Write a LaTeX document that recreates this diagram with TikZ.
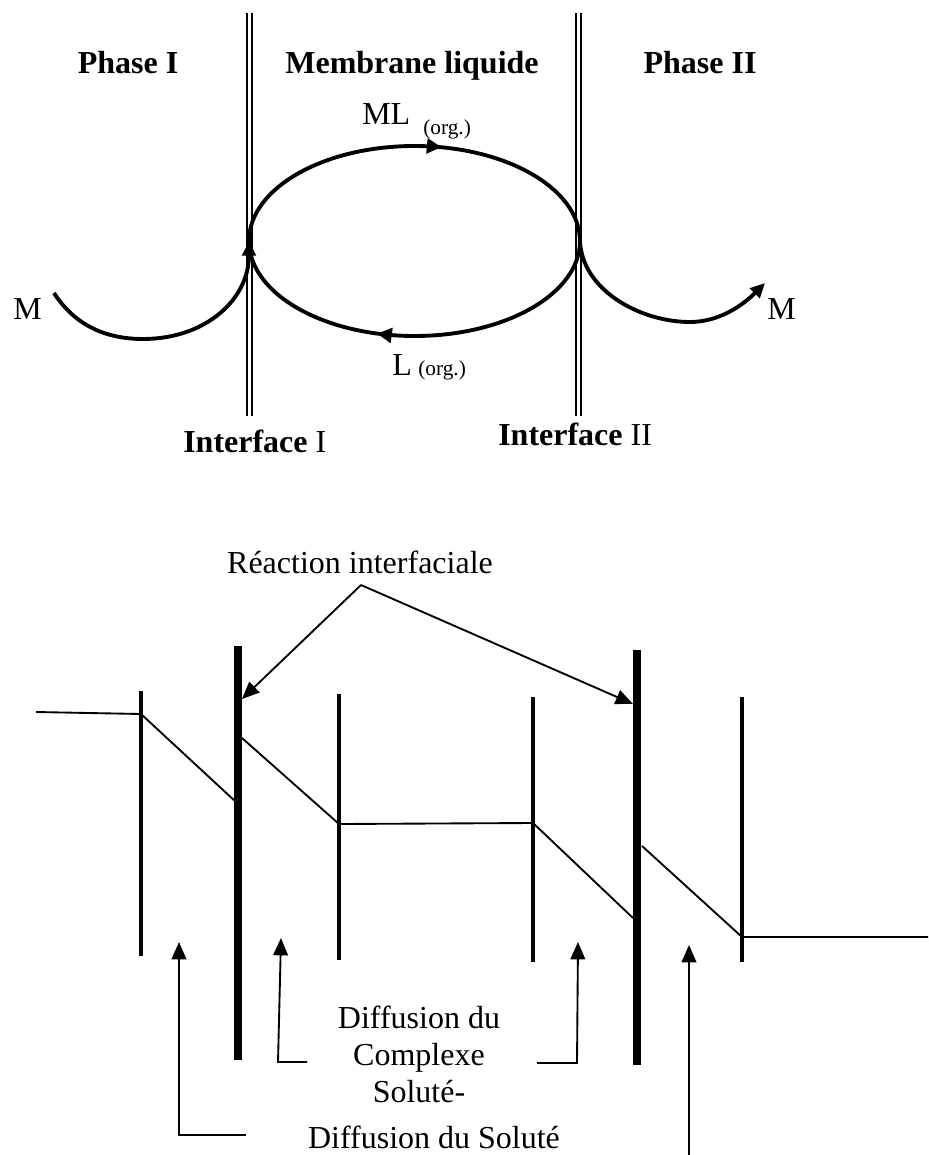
\documentclass[tikz,border=0pt]{standalone}
\usepackage{fontspec}
\setmainfont{Liberation Serif}
\usetikzlibrary{arrows.meta,decorations.markings}
\begin{document}
\begin{tikzpicture}[x=0.75pt,y=-0.75pt,
  lbl/.style={inner sep=0pt, anchor=base, font=\fontsize{24}{28}\selectfont},
  blbl/.style={inner sep=0pt, anchor=base, font=\fontsize{24}{28}\selectfont\bfseries},
  sub/.style={inner sep=0pt, anchor=base west, font=\fontsize{16}{19}\selectfont},
  iface/.style={double, double distance=2.4pt, line width=1.4pt},
  loopline/.style={line width=2.9pt},
  heavy/.style={line width=5.6pt},
  thinv/.style={line width=2.9pt},
  prof/.style={line width=1.4pt},
  bigtip/.style={-{Triangle[length=11pt,width=10pt]}},
  smtip/.style={-{Triangle[length=13pt,width=11pt]}}
]
\fill[white] (0,0) rectangle (928,1155);
\useasboundingbox (0,0) rectangle (928,1155);

% ---------- upper diagram ----------
\node[blbl] (p1) at (128,74) {Phase I};
\node[blbl] (mem) at (412,74) {Membrane liquide};
\node[blbl] (p2) at (700,74) {Phase II};

\coordinate (i1t) at (249.3,13);
\coordinate (i1b) at (249.3,416);
\coordinate (i2t) at (578.5,13);
\coordinate (i2b) at (578.5,416);
\draw[iface] (i1t) -- (i1b);
\draw[iface] (i2t) -- (i2b);

\node[lbl, anchor=base west] (ml) at (362,125) {ML};
\node[sub] (mlsub) at (423,135) {(org.)};
\node[lbl, anchor=base west] (l) at (392,375) {L};
\node[sub] (lsub) at (418,375) {(org.)};

\coordinate (eL) at (249,241);
\coordinate (eR) at (580,241);
\draw[loopline, postaction=decorate, decoration={markings,
   mark=at position 0.565 with {\arrow{Triangle[length=11pt,width=11pt]}}}]
  (eL) arc[start angle=180, end angle=0, x radius=124.1pt, y radius=71.25pt];
\draw[loopline, postaction=decorate, decoration={markings,
   mark=at position 0.59 with {\arrow{Triangle[length=11pt,width=11pt]}}}]
  (eR) arc[start angle=0, end angle=-180, x radius=124.1pt, y radius=71.25pt];

\node[lbl] (m1) at (27.5,320) {M};
\node[lbl] (m2) at (781.5,320) {M};

\coordinate (a1s) at (54,293);
\coordinate (a1m) at (143,339);
\draw[loopline, bigtip] (a1s) .. controls (76,327) and (108,339) .. (a1m)
  .. controls (205,339) and (249,300) .. (eL);
\coordinate (a2m) at (690,322);
\coordinate (a2e) at (765,283);
\draw[loopline, bigtip] (eR) .. controls (582,290) and (640,322) .. (a2m)
  .. controls (722,322) and (746,302) .. (a2e);

\node[lbl, anchor=base west] (if1) at (183,452) {\textbf{Interface} I};
\node[lbl, anchor=base west] (if2) at (498,445) {\textbf{Interface} II};

% ---------- lower diagram ----------
\node[lbl] (rx) at (360,573) {Réaction interfaciale};
\coordinate (apex) at (361,585);

\coordinate (t1t) at (238,646);
\coordinate (t1b) at (238,1060);
\coordinate (t2t) at (637,650);
\coordinate (t2b) at (637,1065);
\draw[heavy] (t1t) -- (t1b);
\draw[heavy] (t2t) -- (t2b);

\coordinate (t1a) at (242,699);
\coordinate (t2a) at (633,704);
\draw[prof, smtip] (apex) -- (t1a);
\draw[prof, smtip] (apex) -- (t2a);

\coordinate (v1t) at (141,691);  \coordinate (v1b) at (141,956);
\coordinate (v2t) at (339,694);  \coordinate (v2b) at (339,960);
\coordinate (v3t) at (533,697);  \coordinate (v3b) at (533,962);
\coordinate (v4t) at (742,697);  \coordinate (v4b) at (742,962);
\draw[thinv] (v1t) -- (v1b);
\draw[thinv] (v2t) -- (v2b);
\draw[thinv] (v3t) -- (v3b);
\draw[thinv] (v4t) -- (v4b);

\coordinate (q0) at (36,712);
\coordinate (q1) at (141,714);
\coordinate (q2) at (236,802);
\coordinate (q3) at (242,738);
\coordinate (q4) at (339,824);
\coordinate (q5) at (533,823);
\coordinate (q6) at (633,918);
\coordinate (q7) at (642,846);
\coordinate (q8) at (742,937);
\coordinate (q9) at (928,937);
\draw[prof] (q0) -- (q1) -- (q2);
\draw[prof] (q3) -- (q4) -- (q5) -- (q6);
\draw[prof] (q7) -- (q8) -- (q9);

% upward arrows
\coordinate (u1e) at (246,1135); \coordinate (u1c) at (179,1135); \coordinate (u1t) at (179,942);
\draw[prof, smtip] (u1e) -- (u1c) -- (u1t);
\coordinate (u2e) at (307,1062); \coordinate (u2c) at (278,1062); \coordinate (u2t) at (281,938);
\draw[prof, smtip] (u2e) -- (u2c) -- (u2t);
\coordinate (u3e) at (537,1063); \coordinate (u3c) at (577,1063); \coordinate (u3t) at (578,942);
\draw[prof, smtip] (u3e) -- (u3c) -- (u3t);
\coordinate (u4b) at (689,1160); \coordinate (u4t) at (689,945);
\draw[prof, smtip] (u4b) -- (u4t);

\node[lbl] (dc1) at (419,1028) {Diffusion du};
\node[lbl] (dc2) at (419,1065) {Complexe};
\node[lbl] (dc3) at (419,1102) {Soluté-};
\node[lbl] (ds) at (434,1148) {Diffusion du Soluté};
\end{tikzpicture}
\end{document}
